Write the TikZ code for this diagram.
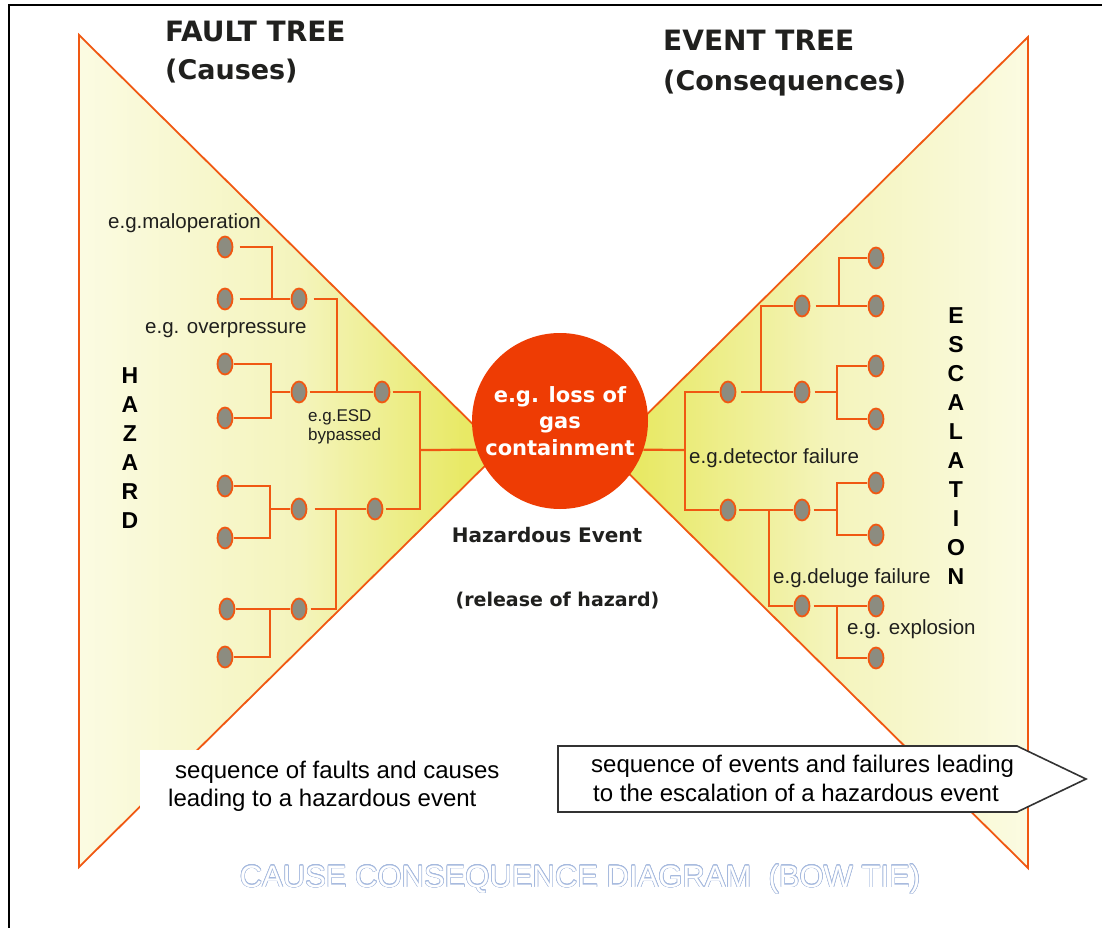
\documentclass[tikz,border=0pt]{standalone}
\usepackage{fontspec}
\setmainfont{Liberation Sans}
\newfontfamily\headfont{DejaVu Sans}
\usepackage{contour}
\usetikzlibrary{shapes.geometric}

\definecolor{lineor}{RGB}{240,88,18}
\definecolor{circfill}{RGB}{238,60,4}
\definecolor{nodegray}{RGB}{140,140,128}
\definecolor{pale}{RGB}{251,251,226}
\definecolor{midy}{RGB}{244,244,188}
\definecolor{strongy}{RGB}{232,233,101}
\definecolor{ink}{RGB}{32,32,30}
\definecolor{boxline}{RGB}{51,51,51}
\definecolor{ghost}{RGB}{165,185,222}
\contourlength{0.55pt}

\begin{document}
\begin{tikzpicture}[x=1pt,y=-1pt,
  conn/.style={draw=lineor,line width=2.2pt},
  gap/.style={shorten <=#1},
  tri/.style={draw=lineor,line width=1.8pt,line join=miter},
  ell/.style={ellipse,draw=lineor,fill=nodegray,line width=1.8pt,
    minimum width=15pt,minimum height=21pt,inner sep=0pt,outer sep=1.2pt},
  lbl/.style={font=\fontsize{20.5}{24}\selectfont,text=ink,inner sep=0pt,anchor=base west},
  lblsm/.style={font=\fontsize{17}{20}\selectfont,text=ink,inner sep=0pt,anchor=base west},
  head/.style={font=\headfont\bfseries\fontsize{28}{32}\selectfont,text=ink,inner sep=0pt,anchor=base west},
  headsub/.style={font=\headfont\bfseries\fontsize{27}{32}\selectfont,text=ink,inner sep=0pt,anchor=base west},
  mid/.style={font=\headfont\bfseries\fontsize{20}{24}\selectfont,text=ink,inner sep=0pt,anchor=base},
  vert/.style={font=\bfseries\fontsize{23}{29}\selectfont,align=center,inner sep=0pt,text=black},
  seq/.style={font=\fontsize{24}{28}\selectfont,text=black,inner sep=0pt,anchor=base west}
]
\useasboundingbox (0,0) rectangle (1102,928);
\fill[white] (0,0) rectangle (1102,928);

% frame lines
\draw[line width=2.5pt,black] (9,928) -- (9,5) -- (1102,5);

% left fan (causes)
\begin{scope}
  \clip (79,35) -- (500,451) -- (79,867) -- cycle;
  \shade[left color=pale,right color=midy] (79,30) rectangle (300.5,870);
  \shade[left color=midy,right color=strongy] (300,30) rectangle (465.5,870);
  \fill[strongy] (465,30) rectangle (505,870);
\end{scope}
\draw[tri] (79,35) -- (500,451) -- (79,867) -- cycle;

% right fan (consequences)
\begin{scope}
  \clip (1028,37) -- (608,453) -- (1028,868) -- cycle;
  \fill[strongy] (600,30) rectangle (640.5,870);
  \shade[left color=strongy,right color=midy] (640,30) rectangle (830.5,870);
  \shade[left color=midy,right color=pale] (830,30) rectangle (1030,870);
\end{scope}
\draw[tri] (1028,37) -- (608,453) -- (1028,868) -- cycle;

% central hazardous event
\node[circle,fill=circfill,minimum size=176pt,inner sep=0pt,align=center,
  text=white,font=\headfont\bfseries\fontsize{21}{26.5}\selectfont] (hz) at (560,421)
  {e.g. loss of\\gas\\containment};

% titles
\node[head] (ft) at (165,41.5) {FAULT TREE};
\node[headsub] (ftc) at (165,80) {(Causes)};
\node[head] (et) at (663,51) {EVENT TREE};
\node[headsub] (etc) at (663,90.5) {(Consequences)};

\node[mid] (hev) at (547,542.5) {Hazardous Event};
\node[mid,font=\headfont\bfseries\fontsize{19}{23}\selectfont] (rel) at (557.5,606.5) {(release of hazard)};

% vertical side words
\node[vert] (hazw) at (130,448) {H\\A\\Z\\A\\R\\D};
\node[vert] (escw) at (956,446) {E\\S\\C\\A\\L\\A\\T\\I\\O\\N};

% fault tree nodes
\node[ell] (a1) at (225,247) {};
\node[ell] (a2) at (225,299) {};
\node[ell] (b1) at (299,299) {};
\node[ell] (a3) at (225,364) {};
\node[ell] (a4) at (225,418) {};
\node[ell] (b2) at (299,392) {};
\node[ell] (c1) at (382,392) {};
\node[ell] (a5) at (225,486) {};
\node[ell] (a6) at (225,538) {};
\node[ell] (b3) at (299,509) {};
\node[ell] (c2) at (375,509) {};
\node[ell] (a7) at (227,609) {};
\node[ell] (a8) at (225,657) {};
\node[ell] (b4) at (299,609) {};

\coordinate (j1) at (272,299);
\coordinate (j2) at (337,392);
\coordinate (j3) at (271,392);
\coordinate (j4) at (270,509);
\coordinate (j5) at (336,509);
\coordinate (j6) at (270,609);
\coordinate (k) at (420,450);

\draw[conn,gap=6pt] (a1.east) -| (j1);
\draw[conn,gap=6pt] (a2.east) -- (b1.west);
\draw[conn,gap=6pt] (b1.east) -| (j2);
\draw[conn] (a3.east) -| (j3);
\draw[conn] (a4.east) -| (j3);
\draw[conn] (j3) -- (b2.west);
\draw[conn,gap=2pt] (b2.east) -- (c1.west);
\draw[conn,gap=2pt] (c1.east) -| (k);
\draw[conn,gap=2pt] (c2.east) -| (k);
\draw[conn] (k) -- (hz.199);
\draw[conn] (a5.east) -| (j4);
\draw[conn] (a6.east) -| (j4);
\draw[conn] (j4) -- (b3.west);
\draw[conn,gap=7pt] (b3.east) -- (c2.west);
\draw[conn,gap=3pt] (b4.east) -| (j5);
\draw[conn] (a7.east) -- (b4.west);
\draw[conn] (a8.east) -| (j6);

% event tree nodes
\node[ell] (d1) at (728,392) {};
\node[ell] (d2) at (728,510) {};
\node[ell] (e1) at (802,392) {};
\node[ell] (e2) at (802,306) {};
\node[ell] (e3) at (802,510) {};
\node[ell] (e4) at (802,606) {};
\node[ell] (f1) at (876,258) {};
\node[ell] (f2) at (876,306) {};
\node[ell] (f3) at (876,366) {};
\node[ell] (f4) at (876,419) {};
\node[ell] (f5) at (876,483) {};
\node[ell] (f6) at (876,535) {};
\node[ell] (f7) at (876,606) {};
\node[ell] (f8) at (876,658) {};

\coordinate (m) at (685,450);
\coordinate (n1) at (761,392);
\coordinate (n2) at (769,510);
\coordinate (p1) at (839,306);
\coordinate (p2) at (837,392);
\coordinate (p3) at (837,510);
\coordinate (p4) at (837,606);

\draw[conn] (hz.-19) -- (m);
\draw[conn] (m) |- (d1.west);
\draw[conn] (m) |- (d2.west);
\draw[conn,gap=4pt] (d1.east) -- (e1.west);
\draw[conn] (n1) |- (e2.west);
\draw[conn,gap=5pt] (e2.east) -- (f2.west);
\draw[conn] (f1.west) -| (p1);
\draw[conn,gap=4pt] (e1.east) -- (p2);
\draw[conn] (p2) |- (f3.west);
\draw[conn] (p2) |- (f4.west);
\draw[conn,gap=2pt] (d2.east) -- (e3.west);
\draw[conn] (n2) |- (e4.west);
\draw[conn,gap=3pt] (e3.east) -- (p3);
\draw[conn] (p3) |- (f5.west);
\draw[conn] (p3) |- (f6.west);
\draw[conn,gap=3pt] (e4.east) -- (f7.west);
\draw[conn] (p4) |- (f8.west);

% example labels
\node[lbl] (lmal) at (108,228) {e.g.maloperation};
\node[lbl] (lover) at (145,333) {e.g. overpressure};
\node[lblsm] (lesd) at (308,421) {e.g.ESD};
\node[lblsm] (lbyp) at (308,440.5) {bypassed};
\node[lbl] (ldet) at (689,463) {e.g.detector failure};
\node[lbl] (ldel) at (773,583) {e.g.deluge failure};
\node[lbl] (lexp) at (847,634) {e.g. explosion};

% caption boxes
\fill[white] (140,750) rectangle (530,816);
\node[seq] (sq1) at (175,778) {sequence of faults and causes};
\node[seq] (sq2) at (168,806) {leading to a hazardous event};

\draw[boxline,line width=1.6pt,fill=white,line join=miter]
  (558,746) -- (1017,746) -- (1086,779) -- (1017,812) -- (558,812) -- cycle;
\node[seq] (sr1) at (591,772) {sequence of events and failures leading};
\node[seq] (sr2) at (593,801) {to the escalation of a hazardous event};

% ghost caption
\node[anchor=base,inner sep=0pt,text=white,font=\fontsize{31}{36}\selectfont] (cap) at (580,887)
  {\contour{ghost}{CAUSE CONSEQUENCE DIAGRAM\ \ (BOW TIE)}};
\end{tikzpicture}
\end{document}
